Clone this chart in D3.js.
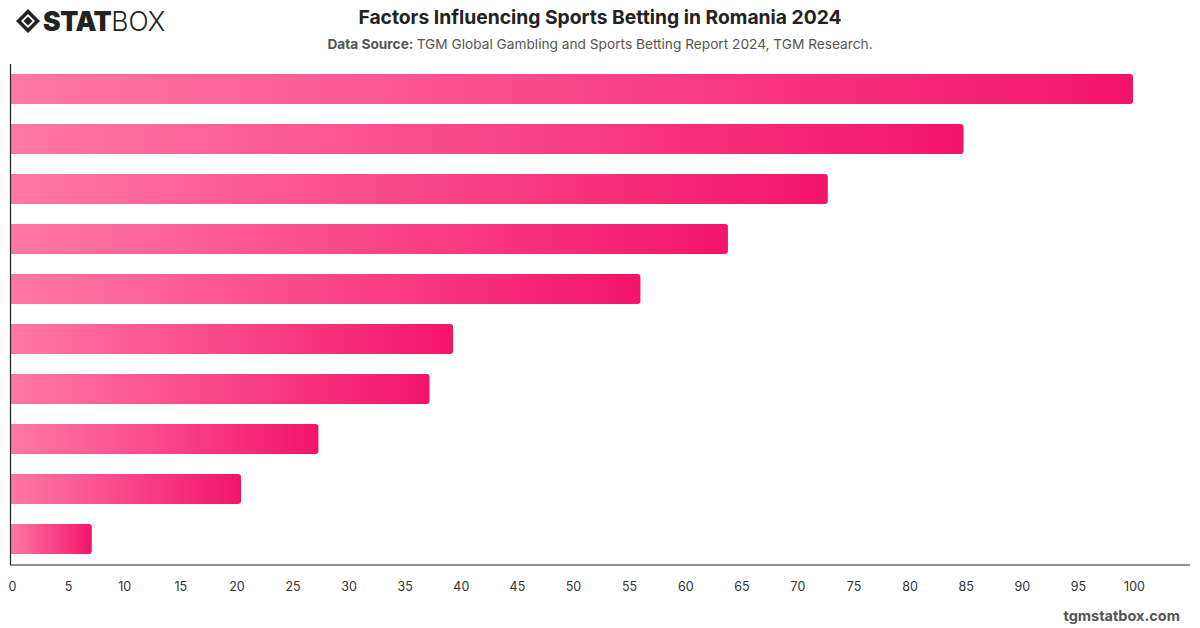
<!DOCTYPE html>
<html>
<head>
<meta charset="utf-8">
<script src="https://cdn.jsdelivr.net/npm/d3@7"></script>
<style>
  html, body { margin: 0; padding: 0; background: #fff; }
  body { width: 1200px; height: 628px; overflow: hidden; font-family: Inter, "Noto Sans", sans-serif; }
  .tick text { font-family: Inter, sans-serif; font-size: 12.5px; fill: #333; }
</style>
</head>
<body>
<div id="chart"></div>
<script>
// Bars, top to bottom (the reference shows no category labels).
const factors = ['Factor 1', 'Factor 2', 'Factor 3', 'Factor 4', 'Factor 5', 'Factor 6', 'Factor 7', 'Factor 8', 'Factor 9', 'Factor 10'];
const shares = [100, 84.9, 72.8, 63.9, 56.1, 39.4, 37.3, 27.4, 20.5, 7.2];
const xTicks = d3.range(0, 101, 5);

const width = 1200, height = 628;
const plotLeft = 11, plotRight = 1190, plotTop = 64, plotBottom = 564;

const svg = d3.select('#chart').append('svg')
  .attr('width', width).attr('height', height);

// Left-to-right pink gradient, one per bar.
const grad = svg.append('defs').append('linearGradient')
  .attr('id', 'barGrad').attr('x1', '0%').attr('x2', '100%');
grad.append('stop').attr('offset', '0%').attr('stop-color', '#ff78a5');
grad.append('stop').attr('offset', '100%').attr('stop-color', '#f3146a');

const x = d3.scaleLinear().domain([0, 100]).range([plotLeft, 1133]);
const y = d3.scaleBand().domain(factors).range([plotTop, plotBottom]).paddingInner(0.4).paddingOuter(0.2);

// Bars: square on the axis side, slightly rounded at the end.
const r = 3;
svg.append('g').selectAll('path.bar')
  .data(factors.map((f, i) => ({f, v: shares[i]})))
  .join('path')
  .attr('class', 'bar')
  .attr('fill', 'url(#barGrad)')
  .attr('d', d => {
    const x0 = x(0), x1 = x(d.v), y0 = y(d.f), y1 = y0 + y.bandwidth();
    return `M${x0},${y0}H${x1 - r}Q${x1},${y0} ${x1},${y0 + r}V${y1 - r}Q${x1},${y1} ${x1 - r},${y1}H${x0}Z`;
  });

// Axes
svg.append('line')
  .attr('x1', plotLeft - 0.5).attr('x2', plotLeft - 0.5)
  .attr('y1', plotTop).attr('y2', plotBottom + 1)
  .attr('stroke', '#222').attr('stroke-width', 1.2);
svg.append('line')
  .attr('x1', plotLeft - 1).attr('x2', plotRight)
  .attr('y1', plotBottom + 1).attr('y2', plotBottom + 1)
  .attr('stroke', '#222').attr('stroke-width', 1.2);

const xAxis = svg.append('g')
  .attr('transform', `translate(0,${plotBottom})`)
  .call(d3.axisBottom(x).tickValues(xTicks).tickSize(0).tickPadding(18));
xAxis.select('.domain').remove();
xAxis.selectAll('.tick text').attr('dx', 1);

// Title block
svg.append('text')
  .attr('x', 600).attr('y', 24)
  .attr('text-anchor', 'middle')
  .attr('font-size', 19.3).attr('font-weight', 700).attr('fill', '#222')
  .text('Factors Influencing Sports Betting in Romania 2024');

const sub = svg.append('text')
  .attr('x', 600).attr('y', 49)
  .attr('text-anchor', 'middle')
  .attr('font-size', 13.7).attr('fill', '#555');
sub.append('tspan').attr('font-weight', 700).text('Data Source: ');
sub.append('tspan').text('TGM Global Gambling and Sports Betting Report 2024, TGM Research.');

// Footer
svg.append('text')
  .attr('x', 1180).attr('y', 621)
  .attr('text-anchor', 'end')
  .attr('font-size', 14.5).attr('font-weight', 700).attr('fill', '#555')
  .text('tgmstatbox.com');

// Logo: diamond mark + STAT (heavy) + BOX (light)
const logo = svg.append('g').attr('transform', 'translate(16,9)');
logo.append('path')
  .attr('d', 'M12,0L24,12L12,24L0,12Z M12,5L19,12L12,19L5,12Z')
  .attr('fill', '#222').attr('fill-rule', 'evenodd');
logo.append('path')
  .attr('d', 'M12,7.5L16.5,12L12,16.5L7.5,12Z')
  .attr('fill', '#222');
const word = logo.append('text')
  .attr('x', 27).attr('y', 22)
  .attr('font-size', 26.5).attr('fill', '#222')
  .attr('font-family', 'Inter, sans-serif');
word.append('tspan').attr('font-weight', 900).attr('letter-spacing', -0.5).text('STAT');
word.append('tspan').attr('font-weight', 300).text('BOX');
</script>
</body>
</html>
